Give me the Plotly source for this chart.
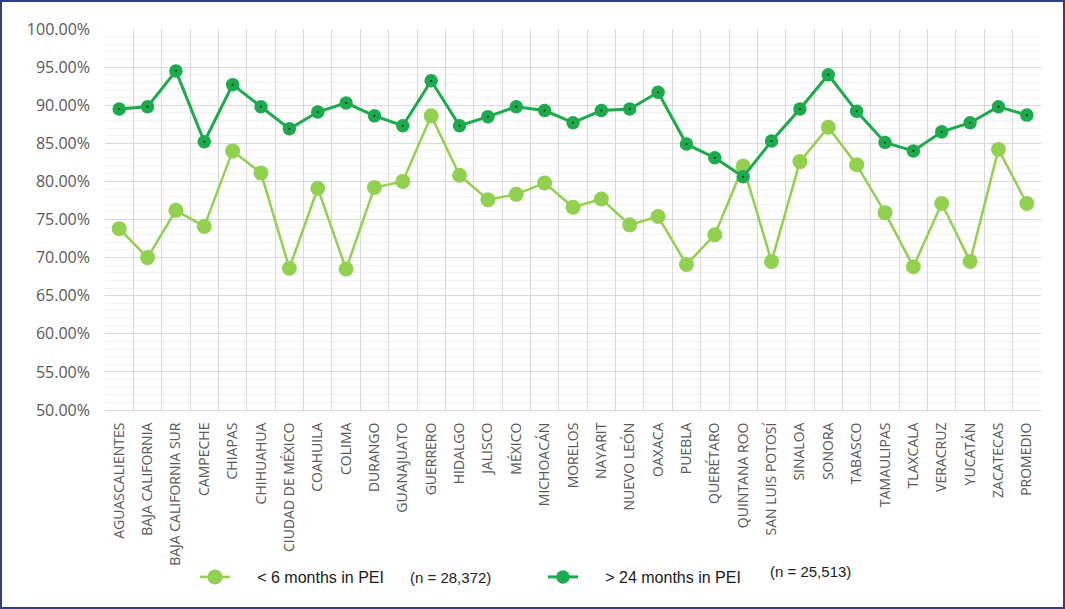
import plotly.graph_objects as go

states = ["AGUASCALIENTES", "BAJA CALIFORNIA", "BAJA CALIFORNIA SUR", "CAMPECHE", "CHIAPAS",
          "CHIHUAHUA", "CIUDAD DE MÉXICO", "COAHUILA", "COLIMA", "DURANGO", "GUANAJUATO",
          "GUERRERO", "HIDALGO", "JALISCO", "MÉXICO", "MICHOACÁN", "MORELOS", "NAYARIT",
          "NUEVO LEÓN", "OAXACA", "PUEBLA", "QUERÉTARO", "QUINTANA ROO", "SAN LUIS POTOSÍ",
          "SINALOA", "SONORA", "TABASCO", "TAMAULIPAS", "TLAXCALA", "VERACRUZ", "YUCATÁN",
          "ZACATECAS", "PROMEDIO"]

less_6_months = [0.738, 0.700, 0.762, 0.741, 0.840, 0.811, 0.686, 0.791, 0.685, 0.792, 0.800,
                 0.886, 0.808, 0.776, 0.783, 0.798, 0.766, 0.777, 0.743, 0.754, 0.691, 0.730,
                 0.820, 0.695, 0.826, 0.871, 0.822, 0.759, 0.688, 0.771, 0.695, 0.842, 0.771]

more_24_months = [0.895, 0.898, 0.945, 0.852, 0.927, 0.898, 0.869, 0.891, 0.903, 0.886, 0.873,
                  0.932, 0.873, 0.885, 0.898, 0.893, 0.877, 0.893, 0.895, 0.917, 0.849, 0.831,
                  0.806, 0.853, 0.895, 0.940, 0.892, 0.851, 0.840, 0.865, 0.877, 0.898, 0.887]

series_names = ["< 6 months in PEI", "> 24 months in PEI"]
sample_sizes = ["(n = 28,372)", "(n = 25,513)"]
y_ticks = [0.50, 0.55, 0.60, 0.65, 0.70, 0.75, 0.80, 0.85, 0.90, 0.95, 1.00]

LIGHT = "#92D050"
DARK = "#1CAB4C"
NB = "\u00a0" * 5

fig = go.Figure()
fig.add_trace(go.Scatter(
    x=states, y=less_6_months, mode="lines+markers", name=NB + series_names[0],
    line=dict(color=LIGHT, width=2.5),
    marker=dict(color=LIGHT, size=15, symbol="circle"),
))
fig.add_trace(go.Scatter(
    x=states, y=more_24_months, mode="lines+markers", name=NB + series_names[1],
    line=dict(color=DARK, width=3),
    marker=dict(color=DARK, size=13.5, symbol="circle"),
))
fig.add_trace(go.Scatter(
    x=states, y=more_24_months, mode="markers", showlegend=False, hoverinfo="skip",
    marker=dict(color="#1b3a22", size=2.2, symbol="circle"),
))

W, H = 1065, 609
ML, MR, MT, MB = 105, 24, 29, 199
PW, PH = W - ML - MR, H - MT - MB

def px_x(p):
    return (p - ML) / PW

def px_y(p):
    return (H - MB - p) / PH

fig.add_annotation(x=px_x(450), y=px_y(577), xref="paper", yref="paper", text=sample_sizes[0],
                   showarrow=False, xanchor="center", yanchor="middle",
                   font=dict(family="Liberation Sans, Arial, sans-serif", size=15, color="#222222"))
fig.add_annotation(x=px_x(810), y=px_y(571), xref="paper", yref="paper", text=sample_sizes[1],
                   showarrow=False, xanchor="center", yanchor="middle",
                   font=dict(family="Liberation Sans, Arial, sans-serif", size=15, color="#222222"))

fig.add_shape(type="rect", xref="paper", yref="paper",
              x0=px_x(1), x1=px_x(W - 1), y0=px_y(H - 1), y1=px_y(1),
              line=dict(color="#2E3F86", width=2), fillcolor="rgba(0,0,0,0)", layer="above")

fig.update_layout(
    width=W, height=H,
    margin=dict(l=ML, r=MR, t=MT, b=MB, pad=0),
    paper_bgcolor="white", plot_bgcolor="white",
    font=dict(family="Open Sans, sans-serif", color="#595959"),
    showlegend=True,
    legend=dict(
        orientation="h", x=px_x(195), xanchor="left", y=px_y(577), yanchor="middle",
        font=dict(family="Liberation Sans, Arial, sans-serif", size=16, color="#1a1a1a"),
        entrywidth=303, entrywidthmode="pixels", bgcolor="rgba(0,0,0,0)",
        itemsizing="trace", traceorder="normal",
    ),
    xaxis=dict(
        type="category", tickson="boundaries", tickangle=-90,
        showgrid=True, gridcolor="#D9D9D9", gridwidth=1,
        showline=True, linecolor="#D9D9D9", linewidth=1,
        ticks="", tickfont=dict(family="Open Sans, sans-serif", size=14, color="#595959"),
        ticklabelstandoff=6, zeroline=False, range=[-0.5, len(states) - 0.5],
    ),
    yaxis=dict(
        range=[0.5, 1.0], tickvals=y_ticks, tickformat=".2%",
        showgrid=True, gridcolor="#D9D9D9", gridwidth=1,
        minor=dict(dtick=0.01, showgrid=True, gridcolor="#F2F2F2", gridwidth=1),
        showline=False, zeroline=False, ticks="",
        tickfont=dict(family="Open Sans, sans-serif", size=16, color="#595959"),
        ticklabelstandoff=14,
    ),
)

fig.write_html("out.html", config={"displayModeBar": False},
               post_script="document.body.style.margin='0';document.body.style.overflow='hidden';")
